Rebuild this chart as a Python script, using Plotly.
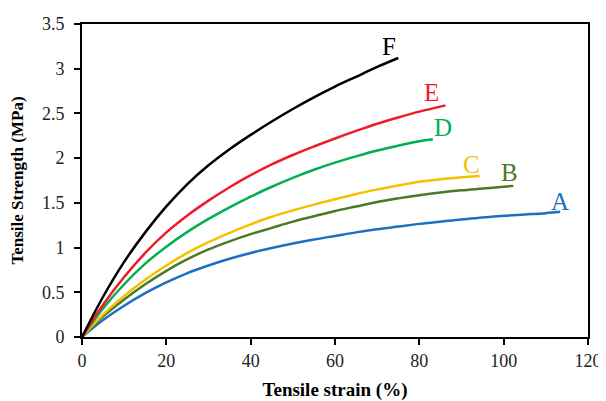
import plotly.graph_objects as go

# Strain (%) and strength (MPa)
strain_F = [0, 5, 10, 15, 20, 25, 30, 35, 40, 45, 50, 55, 60, 65, 70, 75]
stress_F = [0, 0.45, 0.84, 1.17, 1.46, 1.71, 1.92, 2.10, 2.26, 2.41, 2.55, 2.68, 2.80, 2.91, 3.02, 3.12]

strain_E = [0, 5, 10, 15, 20, 25, 30, 35, 40, 45, 50, 55, 60, 65, 70, 75, 80, 86.2]
stress_E = [0, 0.36, 0.67, 0.94, 1.17, 1.36, 1.525, 1.675, 1.81, 1.93, 2.035, 2.13, 2.22, 2.305, 2.385, 2.455, 2.52, 2.59]

strain_D = [0, 5, 10, 15, 20, 25, 30, 35, 40, 45, 50, 55, 60, 65, 70, 75, 80, 83.2]
stress_D = [0, 0.32, 0.59, 0.82, 1.01, 1.175, 1.32, 1.45, 1.57, 1.68, 1.78, 1.87, 1.95, 2.02, 2.085, 2.14, 2.19, 2.21]

strain_C = [0, 5, 10, 15, 20, 25, 30, 35, 40, 45, 50, 55, 60, 65, 70, 75, 80, 85, 90, 94.3]
stress_C = [0, 0.25, 0.46, 0.64, 0.80, 0.94, 1.06, 1.165, 1.26, 1.345, 1.415, 1.48, 1.54, 1.60, 1.65, 1.695, 1.735, 1.765, 1.785, 1.80]

strain_B = [0, 5, 10, 15, 20, 25, 30, 35, 40, 45, 50, 55, 60, 65, 70, 75, 80, 85, 90, 95, 100, 102.3]
stress_B = [0, 0.23, 0.42, 0.59, 0.74, 0.87, 0.98, 1.07, 1.15, 1.22, 1.29, 1.35, 1.41, 1.46, 1.51, 1.55, 1.585, 1.615, 1.64, 1.66, 1.68, 1.69]

strain_A = [0, 5, 10, 15, 20, 25, 30, 35, 40, 45, 50, 55, 60, 65, 70, 75, 80, 85, 90, 95, 100, 105, 110, 113.4]
stress_A = [0, 0.19, 0.35, 0.49, 0.61, 0.715, 0.80, 0.875, 0.94, 0.995, 1.045, 1.09, 1.13, 1.17, 1.205, 1.235, 1.265, 1.29, 1.315, 1.335, 1.355, 1.37, 1.385, 1.40]

series_names = ["A", "B", "C", "D", "E", "F"]
series_colors = ["#1f6fc0", "#4a7a25", "#f5c000", "#00b050", "#ee1c2a", "#000000"]
label_x = [113.4, 101.3, 92.3, 85.7, 83.0, 72.7]
label_y = [1.51, 1.84, 1.93, 2.34, 2.73, 3.25]

x_ticks = [0, 20, 40, 60, 80, 100, 120]
y_ticks = [0, 0.5, 1, 1.5, 2, 2.5, 3, 3.5]
y_ticktext = ["0", "0.5", "1", "1.5", "2", "2.5", "3", "3.5"]

data = {
    "A": (strain_A, stress_A),
    "B": (strain_B, stress_B),
    "C": (strain_C, stress_C),
    "D": (strain_D, stress_D),
    "E": (strain_E, stress_E),
    "F": (strain_F, stress_F),
}

fig = go.Figure()
for name, color in zip(series_names, series_colors):
    xs, ys = data[name]
    fig.add_trace(go.Scatter(x=xs, y=ys, mode="lines", name=name,
                             line=dict(color=color, width=2.5, shape="spline", smoothing=1.0),
                             showlegend=False))

for name, color, lx, ly in zip(series_names, series_colors, label_x, label_y):
    fig.add_annotation(x=lx, y=ly, xref="x", yref="y", text=name, showarrow=False,
                       font=dict(family="Liberation Serif", size=25, color=color))

axis_common = dict(showline=True, linecolor="black", linewidth=2, mirror=True,
                   ticks="outside", ticklen=6, tickwidth=2, tickcolor="black",
                   showgrid=False, zeroline=False, automargin=False,
                   ticklabeloverflow="allow",
                   tickfont=dict(family="Liberation Serif", size=18, color="#222222"))

fig.update_xaxes(range=[0, 120], tickvals=x_ticks,
                 title=dict(text="<b>Tensile strain (%)</b>", standoff=24,
                            font=dict(family="Liberation Serif", size=19, color="black")),
                 **axis_common)
fig.update_yaxes(range=[0, 3.5], tickvals=y_ticks, ticktext=y_ticktext,
                 ticklabelstandoff=6,
                 title=dict(text="<b>Tensile Strength (MPa)</b>", standoff=15,
                            font=dict(family="Liberation Serif", size=17, color="black")),
                 **axis_common)

# The page body has an 8px default margin, so the figure is sized/offset to fit the 606x401 window
fig.update_layout(width=598, height=393, plot_bgcolor="white", paper_bgcolor="white",
                  margin=dict(l=74, r=18, t=16, b=64))

fig.write_html("out.html")
